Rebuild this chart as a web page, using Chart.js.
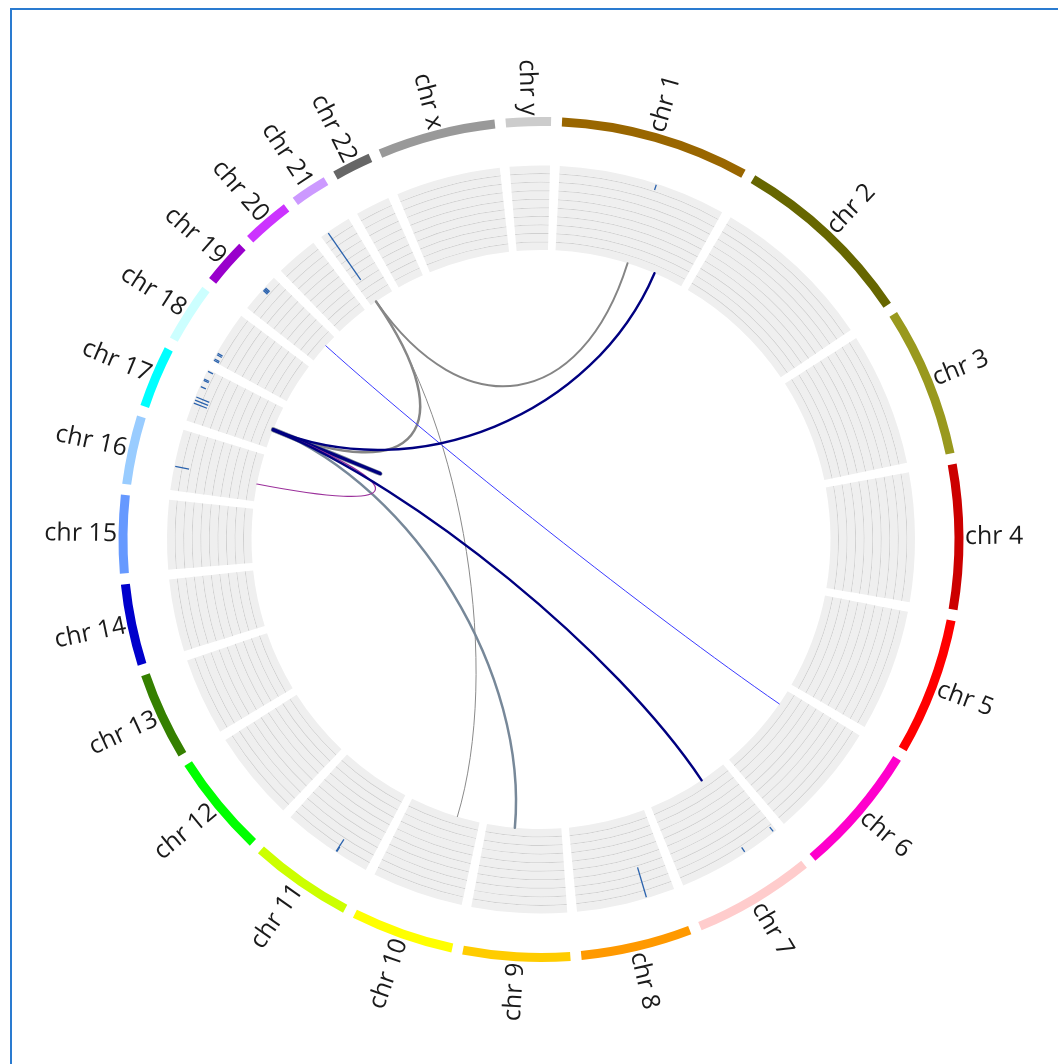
<!DOCTYPE html>
<html>
<head>
<meta charset="utf-8">
<script src="https://cdn.jsdelivr.net/npm/chart.js@4.4.1/dist/chart.umd.min.js"></script>
<style>
  html, body { margin: 0; padding: 0; background: #fff; overflow: hidden; }
  #wrap { position: relative; width: 1058px; height: 1064px; }
  #frame { position: absolute; left: 10px; top: 8px; width: 1200px; height: 1200px; border: 2px solid #2a7bd0; }
  #chart { position: absolute; left: 0; top: 0; }
</style>
</head>
<body>
<div id="wrap">
  <div id="frame"></div>
  <canvas id="chart" width="1058" height="1064"></canvas>
</div>
<script>
// chromosomes (Mb), clockwise from the top
const CHR_NAMES = ["chr 1", "chr 2", "chr 3", "chr 4", "chr 5", "chr 6", "chr 7", "chr 8",
  "chr 9", "chr 10", "chr 11", "chr 12", "chr 13", "chr 14", "chr 15", "chr 16",
  "chr 17", "chr 18", "chr 19", "chr 20", "chr 21", "chr 22", "chr x", "chr y"];
const CHR_LENGTHS = [249.25, 243.20, 198.02, 191.15, 180.92, 171.12, 159.14, 146.36,
  141.21, 135.53, 135.01, 133.85, 115.17, 107.35, 102.53, 90.35,
  81.20, 78.08, 59.13, 63.03, 48.13, 51.30, 155.27, 59.37];
const CHR_COLORS = ["#996600", "#666600", "#99991e", "#cc0000", "#ff0000", "#ff00cc", "#ffcccc", "#ff9900",
  "#ffcc00", "#ffff00", "#ccff00", "#00ff00", "#358000", "#0000cc", "#6699ff", "#99ccff",
  "#00ffff", "#ccffff", "#9900cc", "#cc33ff", "#cc99ff", "#666666", "#999999", "#cccccc"];

// track marks: chromosome index, position (Mb), first and last row (0 = outermost)
const MARK_CHR = [0, 20, 18, 18, 18, 18, 17, 17, 17, 17,
  16, 16, 16, 16, 16, 16, 16, 15, 10, 10, 7, 6, 6];
const MARK_POS = [144.5, 11.7, 35.0, 36.7, 38.4, 40.1, 1.7, 3.8, 10.9, 13.2,
  78.7, 64.0, 66.0, 54.0, 27.7, 32.5, 37.3, 35.4, 51.3, 50.2, 42.4, 56.4, 4.8];
const MARK_ROW_START = [0, 0, 0, 0, 0, 0, 0, 0, 0, 0,
  0, 0, 0, 0, 0, 0, 0, 0, 0, 0, 0, 0, 0];
const MARK_ROW_END = [0, 6, 0, 0, 0, 0, 0, 0, 0, 0,
  0, 0, 0, 0, 1, 1, 1, 1, 1, 0, 3, 0, 0];

// links between two genome positions
const LINK_CHR_A = [0, 20, 20, 16, 16, 16, 18, 15, 16, 0];
const LINK_POS_A = [138.7, 12.0, 12.1, 35.2, 35.8, 35.4, 36.0, 33.0, 35.5, 193.0];
const LINK_CHR_B = [20, 16, 9, 16, 8, 16, 5, 16, 6, 16];
const LINK_POS_B = [12.2, 35.5, 43.4, 36.2, 88.0, 35.9, 28.8, 35.4, 50.6, 35.7];
const LINK_COLORS = ["#858585", "#858585", "#8a8a8a", "#7d8794", "#778899", "#000080",
  "#3b3bff", "#9b309b", "#000080", "#000080"];
const LINK_WIDTHS = [2, 2.5, 1, 4.5, 2.5, 3.2, 1, 1.2, 2.4, 2.4];

const GAP_MB = 14.33;
const START_DEG = 2.88;
const TRACK_ROWS = 10;
const BEND = 0.467;
const LABEL_R = 424;

const gapColor = "rgba(0,0,0,0)";
const ringData = [];
CHR_LENGTHS.forEach((len) => { ringData.push(len, GAP_MB); });

function segColors(color) {
  const out = [];
  CHR_LENGTHS.forEach((_len, i) => {
    out.push(Array.isArray(color) ? color[i] : color, gapColor);
  });
  return out;
}

const datasets = [
  { data: ringData, backgroundColor: segColors(CHR_COLORS), weight: 9 },
  { data: ringData, backgroundColor: segColors(gapColor), weight: 39.5 },
];
const TRACK_FIRST = datasets.length;
for (let r = 0; r < TRACK_ROWS; r += 1) {
  datasets.push({ data: ringData, backgroundColor: segColors("#efefef"), weight: 7.55 });
  if (r < TRACK_ROWS - 1) {
    datasets.push({ data: ringData, backgroundColor: segColors("#d0d0d0"), weight: 1 });
  }
}

function chrAngle(chart, chr, pos) {
  const arc = chart.getDatasetMeta(0).data[chr * 2];
  return arc.startAngle + (arc.endAngle - arc.startAngle) * (pos / CHR_LENGTHS[chr]);
}

const circosPlugin = {
  id: "circos",
  afterDatasetsDraw(chart) {
    const ctx = chart.ctx;
    const ring = chart.getDatasetMeta(0).data[0];
    const cx = ring.x;
    const cy = ring.y;
    const innerR = chart.getDatasetMeta(datasets.length - 1).data[0].innerRadius;

    // marks inside the track
    ctx.save();
    ctx.strokeStyle = "#2a62ad";
    ctx.lineWidth = 1.3;
    MARK_CHR.forEach((chr, i) => {
      const a = chrAngle(chart, chr, MARK_POS[i]);
      const rOut = chart.getDatasetMeta(TRACK_FIRST + 2 * MARK_ROW_START[i]).data[0].outerRadius - 1;
      const rIn = chart.getDatasetMeta(TRACK_FIRST + 2 * MARK_ROW_END[i]).data[0].innerRadius + 1;
      ctx.beginPath();
      ctx.moveTo(cx + rOut * Math.cos(a), cy + rOut * Math.sin(a));
      ctx.lineTo(cx + rIn * Math.cos(a), cy + rIn * Math.sin(a));
      ctx.stroke();
    });
    ctx.restore();

    // links
    ctx.save();
    ctx.lineCap = "round";
    LINK_CHR_A.forEach((chrA, i) => {
      const a1 = chrAngle(chart, chrA, LINK_POS_A[i]);
      const a2 = chrAngle(chart, LINK_CHR_B[i], LINK_POS_B[i]);
      const x1 = cx + innerR * Math.cos(a1);
      const y1 = cy + innerR * Math.sin(a1);
      const x2 = cx + innerR * Math.cos(a2);
      const y2 = cy + innerR * Math.sin(a2);
      ctx.beginPath();
      ctx.moveTo(x1, y1);
      ctx.bezierCurveTo(
        cx + (x1 - cx) * BEND, cy + (y1 - cy) * BEND,
        cx + (x2 - cx) * BEND, cy + (y2 - cy) * BEND,
        x2, y2
      );
      ctx.strokeStyle = LINK_COLORS[i];
      ctx.lineWidth = LINK_WIDTHS[i];
      ctx.stroke();
    });
    ctx.restore();

    // chromosome labels
    ctx.save();
    ctx.fillStyle = "#1a1a1a";
    ctx.font = "25px 'Open Sans'";
    ctx.textBaseline = "middle";
    CHR_NAMES.forEach((name, i) => {
      const arc = chart.getDatasetMeta(0).data[i * 2];
      const mid = (arc.startAngle + arc.endAngle) / 2;
      let deg = ((mid + Math.PI / 2) * 180 / Math.PI) % 360;
      if (deg < 0) deg += 360;
      ctx.save();
      ctx.translate(cx + LABEL_R * Math.cos(mid), cy + LABEL_R * Math.sin(mid));
      if (deg < 180) {
        ctx.rotate(mid);
        ctx.textAlign = "left";
      } else {
        ctx.rotate(mid + Math.PI);
        ctx.textAlign = "right";
      }
      ctx.fillText(name, 0, 0);
      ctx.restore();
    });
    ctx.restore();
  },
};

new Chart(document.getElementById("chart"), {
  type: "doughnut",
  data: { labels: ringData.map((_v, i) => String(i)), datasets },
  options: {
    responsive: false,
    animation: false,
    events: [],
    rotation: START_DEG,
    circumference: 360,
    cutout: "68.52%",
    layout: { padding: { left: 118.5, right: 94.5, top: 117, bottom: 102 } },
    elements: { arc: { borderWidth: 0, hoverOffset: 0, offset: 0, spacing: 0 } },
    plugins: { legend: { display: false }, tooltip: { enabled: false } },
  },
  plugins: [circosPlugin],
});
</script>
</body>
</html>
